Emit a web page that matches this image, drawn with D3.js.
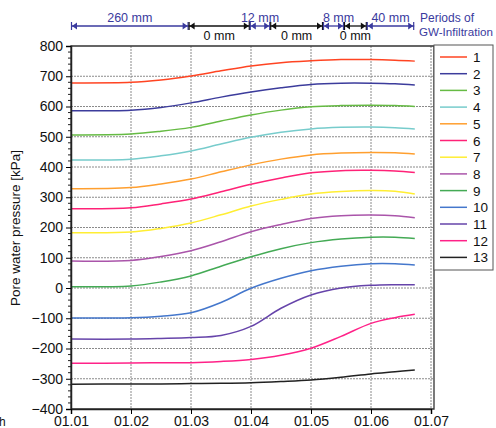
<!DOCTYPE html>
<html>
<head>
<meta charset="utf-8">
<script src="https://cdn.jsdelivr.net/npm/d3@7"></script>
<style>
  body { margin: 0; background: #fff; }
  svg { font-family: "Liberation Sans", Arial, sans-serif; }
</style>
</head>
<body>
<svg id="chart" width="496" height="428"></svg>
<script>
// Data
const days = [1, 2, 2.5, 3, 3.5, 4, 4.5, 5, 5.5, 6, 6.4, 6.73];
const seriesNames = ["1", "2", "3", "4", "5", "6", "7", "8", "9", "10", "11", "12", "13"];
const seriesValues = [
  [678, 680, 688, 701, 718, 734, 745, 751, 755, 755, 753, 750],
  [586, 588, 597, 612, 631, 648, 662, 673, 677, 677, 675, 671],
  [506, 509, 518, 531, 552, 572, 588, 599, 603, 604, 603, 600],
  [423, 426, 437, 453, 476, 498, 515, 526, 531, 532, 530, 526],
  [328, 332, 344, 360, 384, 407, 426, 440, 446, 448, 447, 443],
  [262, 265, 278, 294, 318, 343, 364, 381, 388, 389, 387, 382],
  [183, 185, 197, 215, 242, 271, 293, 311, 319, 322, 320, 311],
  [89, 91, 104, 123, 153, 186, 210, 230, 239, 241, 239, 232],
  [4, 7, 20, 40, 72, 103, 130, 150, 162, 168, 168, 164],
  [-99, -98, -93, -82, -48, -1, 32, 57, 72, 80, 80, 76],
  [-169, -169, -167, -164, -157, -127, -67, -23, 0, 9, 11, 11],
  [-249, -248, -247, -247, -243, -236, -222, -199, -160, -117, -98, -87],
  [-318, -317, -317, -316, -315, -313, -309, -304, -295, -284, -277, -271]
];
const seriesColors = ["#ff4422", "#3c3c9c", "#66bb44", "#77cccc", "#ff9f2f", "#ff2277",
  "#ffee33", "#aa55aa", "#44aa55", "#4477cc", "#6644aa", "#ff2288", "#222222"];

const xTicks = [1, 2, 3, 4, 5, 6, 7];
const xTickLabels = ["01.01", "01.02", "01.03", "01.04", "01.05", "01.06", "01.07"];
const yTicks = [-400, -300, -200, -100, 0, 100, 200, 300, 400, 500, 600, 700, 800];

// infiltration periods
const periodStart = [1, 2.96, 3.98, 4.32, 5.2, 5.55, 5.93];
const periodEnd = [2.96, 3.98, 4.32, 5.2, 5.55, 5.93, 6.72];
const periodLabel = ["260 mm", "0 mm", "12 mm", "0 mm", "8 mm", "0 mm", "40 mm"];
const periodWet = [true, false, true, false, true, false, true];

const svg = d3.select("#chart");
const blue = "#3a3a9e";
const font = "Liberation Sans, Arial, sans-serif";

const x = d3.scaleLinear().domain([1, 7]).range([71, 431]);
const y = d3.scaleLinear().domain([-400, 800]).range([409, 46]);

// Grid
const grid = svg.append("g").attr("stroke", "#8a8a8a").attr("stroke-width", 1)
  .attr("stroke-dasharray", "2,1");
grid.selectAll("line.h").data(yTicks.slice(1, -1)).enter().append("line")
  .attr("x1", 71).attr("x2", 434)
  .attr("y1", d => y(d)).attr("y2", d => y(d));
grid.selectAll("line.v").data(xTicks.slice(1)).enter().append("line")
  .attr("x1", d => x(d)).attr("x2", d => x(d))
  .attr("y1", 46).attr("y2", 409);

// Lines
const line = d3.line().x(d => x(d[0])).y(d => y(d[1])).curve(d3.curveCatmullRom.alpha(0.5));
svg.append("g").selectAll("path").data(seriesValues).enter().append("path")
  .attr("fill", "none")
  .attr("stroke", (d, i) => seriesColors[i])
  .attr("stroke-width", 1.5)
  .attr("d", d => line(d.map((v, j) => [days[j], v])));

// Frame
svg.append("path")
  .attr("d", "M71,46H434V409H71Z")
  .attr("fill", "none").attr("stroke", "#333").attr("stroke-width", 1.3);

// Y axis
const yAxis = svg.append("g").attr("transform", "translate(71,0)")
  .call(d3.axisLeft(y).tickValues(yTicks).tickSize(5).tickPadding(3));
yAxis.select(".domain").attr("stroke", "#222").attr("stroke-width", 1.5);
yAxis.selectAll("text").attr("font-size", 14).attr("fill", "#111").attr("font-family", font);
const minor = d3.range(-400, 801, 20).filter(v => v % 100 !== 0);
svg.append("g").selectAll("line").data(minor).enter().append("line")
  .attr("x1", 68).attr("x2", 71)
  .attr("y1", d => y(d)).attr("y2", d => y(d))
  .attr("stroke", "#222");

// X axis
const xAxis = svg.append("g").attr("transform", "translate(0,409)")
  .call(d3.axisBottom(x).tickValues(xTicks).tickFormat((d, i) => xTickLabels[i])
    .tickSize(5).tickPadding(2));
xAxis.select(".domain").attr("stroke", "#222").attr("stroke-width", 1.5);
xAxis.selectAll("text").attr("font-size", 14).attr("fill", "#111").attr("font-family", font);

// Y label
svg.append("text")
  .attr("transform", "translate(20,228) rotate(-90)")
  .attr("text-anchor", "middle")
  .attr("font-size", 13.5)
  .attr("fill", "#111")
  .text("Pore water pressure [kPa]");

// stray fragment at bottom left
svg.append("text").attr("x", -1).attr("y", 426).attr("font-size", 12).attr("fill", "#111").text("h");

// Legend
const legend = svg.append("g");
legend.append("rect").attr("x", 434).attr("y", 45).attr("width", 59).attr("height", 225)
  .attr("fill", "#fff").attr("stroke", "#555").attr("stroke-width", 1);
const items = legend.selectAll("g.item").data(seriesNames).enter().append("g")
  .attr("transform", (d, i) => "translate(0," + (57 + i * 16.7) + ")");
items.append("line").attr("x1", 440).attr("x2", 467)
  .attr("stroke", (d, i) => seriesColors[i]).attr("stroke-width", 1.5);
items.append("text").attr("x", 473).attr("y", 5).attr("font-size", 13.5)
  .attr("fill", "#111").text(d => d);

// Infiltration period arrows
const arrows = svg.append("g");
periodStart.forEach((s, i) => {
  const x0 = x(s), x1 = x(periodEnd[i]), yy = 26;
  const c = periodWet[i] ? blue : "#111";
  const g = arrows.append("g").attr("fill", c).attr("stroke", c);
  g.append("line").attr("x1", x0).attr("x2", x1).attr("y1", yy).attr("y2", yy).attr("stroke-width", 1.3);
  g.append("line").attr("x1", x0 + 0.5).attr("x2", x0 + 0.5).attr("y1", yy - 4).attr("y2", yy + 4).attr("stroke-width", 1.2);
  g.append("line").attr("x1", x1 - 0.5).attr("x2", x1 - 0.5).attr("y1", yy - 4).attr("y2", yy + 4).attr("stroke-width", 1.2);
  g.append("path").attr("stroke", "none")
    .attr("d", `M${x0 + 1},${yy}L${x0 + 6},${yy - 3.5}L${x0 + 6},${yy + 3.5}Z`);
  g.append("path").attr("stroke", "none")
    .attr("d", `M${x1 - 1},${yy}L${x1 - 6},${yy - 3.5}L${x1 - 6},${yy + 3.5}Z`);
  svg.append("text")
    .attr("x", (x0 + x1) / 2 + (periodLabel[i] === "8 mm" ? 5 : 0))
    .attr("y", periodWet[i] ? 22 : 40)
    .attr("text-anchor", "middle")
    .attr("font-size", 12.5)
    .attr("fill", c)
    .text(periodLabel[i]);
});
svg.append("text").attr("x", 420).attr("y", 22).attr("font-size", 12).attr("fill", blue).text("Periods of");
svg.append("text").attr("x", 419).attr("y", 36).attr("font-size", 11.6).attr("fill", blue)
  .text("GW-Infiltration");
</script>
</body>
</html>
